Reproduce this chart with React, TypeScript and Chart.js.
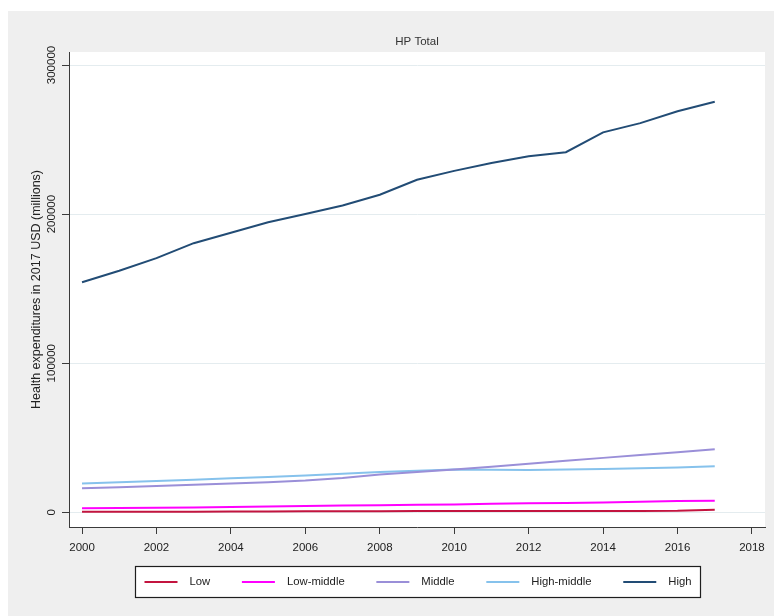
import { useEffect, useRef } from "react";
import { Chart, registerables } from "chart.js";

Chart.register(...registerables);

// Health expenditure (2017 USD, millions) by income group
const years = [
  2000, 2001, 2002, 2003, 2004, 2005, 2006, 2007, 2008,
  2009, 2010, 2011, 2012, 2013, 2014, 2015, 2016, 2017,
];
const lowValues = [
  300, 350, 400, 450, 500, 550, 650, 700, 750,
  800, 800, 850, 850, 900, 900, 950, 1000, 1700,
];
const lowMiddleValues = [
  2700, 2900, 3100, 3300, 3600, 3900, 4200, 4500, 4800,
  5100, 5300, 5700, 6000, 6300, 6600, 7000, 7600, 7800,
];
const middleValues = [
  16100, 16800, 17700, 18500, 19300, 20200, 21300, 23000, 25300,
  27000, 28650, 30500, 32500, 34500, 36500, 38500, 40300, 42300,
];
const highMiddleValues = [
  19300, 20100, 21000, 21900, 22800, 23700, 24600, 25900, 27100,
  27900, 28650, 28500, 28400, 28700, 29100, 29500, 30000, 30900,
];
const highValues = [
  154300, 162000, 170500, 180500, 187500, 194500, 200000, 205800, 213000,
  223000, 229000, 234300, 238800, 241500, 254800, 261000, 269000, 275400,
];

const seriesNames = ["Low", "Low-middle", "Middle", "High-middle", "High"];
const seriesValues = [lowValues, lowMiddleValues, middleValues, highMiddleValues, highValues];
const seriesColors = ["#c3143f", "#ff00ff", "#9a8fd8", "#86c2ec", "#224c75"];

const xTicks = [2000, 2002, 2004, 2006, 2008, 2010, 2012, 2014, 2016, 2018];
const yTicks = [0, 100000, 200000, 300000];

const chartTitle = "HP Total";
const yAxisTitle = "Health expenditures in 2017 USD (millions)";

const FONT = '"Liberation Sans", Arial, Helvetica, sans-serif';
const TEXT = "#222222";
const AXIS = "#3a3a3a";

// Gray graph region, white plot region, title, rotated y labels and boxed legend
const stataFrame = {
  id: "stataFrame",
  beforeDraw(chart: any) {
    const { ctx, chartArea: a, width, height } = chart;
    ctx.save();
    ctx.fillStyle = "#efefef";
    ctx.fillRect(0, 0, width, height);
    ctx.fillStyle = "#ffffff";
    ctx.fillRect(a.left, a.top, a.right - a.left, a.bottom - a.top);
    ctx.restore();
  },
  afterDraw(chart: any) {
    const { ctx, chartArea: a } = chart;
    const cx = (a.left + a.right) / 2;
    ctx.save();

    // title
    ctx.fillStyle = "#333333";
    ctx.font = `11.5px ${FONT}`;
    ctx.textAlign = "center";
    ctx.textBaseline = "middle";
    ctx.fillText(chartTitle, cx, 31);

    // y tick labels, rotated
    const yScale = chart.scales.y;
    ctx.fillStyle = TEXT;
    ctx.font = `11.5px ${FONT}`;
    for (const t of yScale.ticks) {
      const py = yScale.getPixelForValue(t.value);
      ctx.save();
      ctx.translate(44, py);
      ctx.rotate(-Math.PI / 2);
      ctx.textAlign = "center";
      ctx.textBaseline = "middle";
      ctx.fillText(String(t.value), 0, 0);
      ctx.restore();
    }

    // legend
    const boxW = 565;
    const boxH = 31;
    const boxX = Math.round(cx - boxW / 2) + 0.5;
    const boxY = 555.5;
    ctx.fillStyle = "#ffffff";
    ctx.fillRect(boxX, boxY, boxW, boxH);
    ctx.strokeStyle = "#1e1e1e";
    ctx.lineWidth = 1.2;
    ctx.strokeRect(boxX, boxY, boxW, boxH);

    ctx.font = `11.3px ${FONT}`;
    const lineLen = 33;
    const gap = 12;
    const margin = 9;
    const datasets = chart.data.datasets;
    const widths = datasets.map((d: any) => lineLen + gap + ctx.measureText(d.label).width);
    const total = widths.reduce((s: number, w: number) => s + w, 0);
    const spacing = (boxW - 2 * margin - total) / (datasets.length - 1);
    const midY = boxY + boxH / 2;
    let x = boxX + margin;
    datasets.forEach((d: any, i: number) => {
      ctx.strokeStyle = d.borderColor;
      ctx.lineWidth = 2;
      ctx.beginPath();
      ctx.moveTo(x, midY);
      ctx.lineTo(x + lineLen, midY);
      ctx.stroke();
      ctx.fillStyle = TEXT;
      ctx.textAlign = "left";
      ctx.textBaseline = "middle";
      ctx.fillText(d.label, x + lineLen + gap, midY);
      x += widths[i] + spacing;
    });

    ctx.restore();
  },
};

export default function App() {
  const canvasRef = useRef<HTMLCanvasElement | null>(null);

  useEffect(() => {
    const canvas = canvasRef.current;
    if (!canvas) return;

    const chart = new Chart(canvas, {
      type: "line",
      data: {
        datasets: seriesNames.map((name, i) => ({
          label: name,
          data: years.map((yr, j) => ({ x: yr, y: seriesValues[i][j] })),
          borderColor: seriesColors[i],
          backgroundColor: seriesColors[i],
          borderWidth: 2,
          pointRadius: 0,
          tension: 0,
          fill: false,
        })),
      },
      options: {
        responsive: false,
        animation: false,
        devicePixelRatio: 1,
        layout: { padding: { top: 41, right: 9, bottom: 0, left: 0 } },
        plugins: {
          legend: { display: false },
          title: { display: false },
          tooltip: { enabled: false },
        },
        scales: {
          x: {
            type: "linear",
            min: 1999.65,
            max: 2018.35,
            afterBuildTicks: (scale: any) => {
              scale.ticks = xTicks.map((v) => ({ value: v }));
            },
            afterFit: (scale: any) => {
              scale.height = 89;
            },
            grid: {
              display: true,
              drawOnChartArea: false,
              drawTicks: true,
              tickLength: 7,
              tickColor: AXIS,
            },
            border: { display: true, color: AXIS, width: 1 },
            ticks: {
              color: TEXT,
              font: { family: FONT, size: 11.5 },
              padding: 7,
              maxRotation: 0,
              minRotation: 0,
              autoSkip: false,
              callback: (v: any) => String(v),
            },
          },
          y: {
            type: "linear",
            min: -9860,
            max: 308720,
            afterBuildTicks: (scale: any) => {
              scale.ticks = yTicks.map((v) => ({ value: v }));
            },
            afterFit: (scale: any) => {
              scale.width = 61;
            },
            grid: {
              display: true,
              drawOnChartArea: true,
              color: "#e4ecef",
              lineWidth: 1,
              drawTicks: true,
              tickLength: 7,
              tickColor: AXIS,
            },
            border: { display: true, color: AXIS, width: 1 },
            ticks: { display: false },
            title: {
              display: true,
              text: yAxisTitle,
              color: TEXT,
              font: { family: FONT, size: 12.5 },
              padding: { top: 21, bottom: 0 },
            },
          },
        },
      },
      plugins: [stataFrame],
    } as any);

    return () => chart.destroy();
  }, []);

  return (
    <div style={{ position: "fixed", left: 8, top: 11, width: 766, height: 605 }}>
      <canvas ref={canvasRef} width={766} height={605} style={{ display: "block" }} />
    </div>
  );
}
